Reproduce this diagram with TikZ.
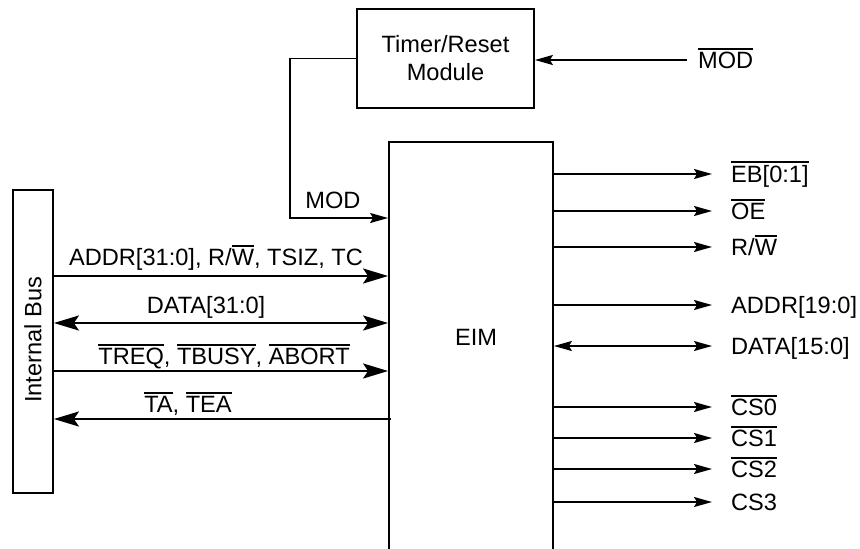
\documentclass[tikz,border=0pt]{standalone}
\usepackage{fontspec}
\setmainfont{Liberation Sans}
\usetikzlibrary{arrows.meta}
\newcommand{\ovl}[1]{\vbox{\hrule height 1.7pt\kern 2pt\hbox{#1}}}
\tikzset{
  bigtip/.tip = {Stealth[length=25pt,width=15pt,inset=5pt]},
  smalltip/.tip = {Stealth[length=18pt,width=10pt,inset=3pt]},
  block/.style = {draw, line width=1.8pt, inner sep=0pt},
  bus/.style = {line width=2.3pt, -bigtip},
  sig/.style = {line width=1.8pt, -smalltip},
  pin/.style = {anchor=west, inner sep=0pt, text height=22pt, text depth=6pt},
  tag/.style = {anchor=base, inner sep=0pt},
}
\begin{document}
\begin{tikzpicture}[x=1pt, y=-1pt, font=\fontsize{23.6}{28}\selectfont]
	\useasboundingbox (0,0) rectangle (860,549);
	\clip (0,0) rectangle (860,549);
	% blocks
	\node[block, minimum width=177pt, minimum height=99pt, align=center] (timer) at (445.5,58.5) {Timer/Reset\\Module};
	\node[block, minimum width=164pt, minimum height=460pt] (eim) at (471,372) {};
	\node (eimlbl) at (476,337) {EIM};
	\node[block, minimum width=40pt, minimum height=303pt] (bus) at (33,341.5) {};
	\node[rotate=90] (buslbl) at (33,340) {Internal Bus};
	% mode input
	\node[pin] (modbar) at (698,60) {\ovl{MOD}};
	\draw[sig] ([xshift=-11pt]modbar.west) -- (timer.east |- modbar.west);
	\node[tag] (modlbl) at (333,208) {MOD};
	\draw[sig] (timer.west) -- ++(-66,0) |- (eim.west |- 0,218);
	% internal bus side
	\node[tag] (addrlbl) at (216,265) {ADDR[31:0], R/\ovl{W}, TSIZ, TC};
	\node[tag] (datalbl) at (206,313) {DATA[31:0]};
	\node[tag] (treqlbl) at (224,364) {\ovl{TREQ}, \ovl{TBUSY}, \ovl{ABORT}};
	\node[tag] (talbl) at (188,412) {\ovl{TA}, \ovl{TEA}};
	\draw[bus] (bus.east |- 0,276) -- (eim.west |- 0,276);
	\draw[bus, bigtip-bigtip] (bus.east |- 0,323) -- (eim.west |- 0,323);
	\draw[bus] (bus.east |- 0,371) -- (eim.west |- 0,371);
	\draw[bus, bigtip-] (bus.east |- 0,419) -- ([xshift=3pt]eim.west |- 0,419);
	% external pins
	\node[pin] (eb) at (731,174) {\ovl{EB[0:1]}};
	\node[pin] (oe) at (731,211) {\ovl{OE}};
	\node[pin] (rw) at (731,247) {R/\ovl{W}};
	\node[pin] (addr) at (731,305) {ADDR[19:0]};
	\node[pin] (data) at (731,346) {DATA[15:0]};
	\node[pin] (cs0) at (731,407) {\ovl{CS0}};
	\node[pin] (cs1) at (731,438) {\ovl{CS1}};
	\node[pin] (cs2) at (731,469) {\ovl{CS2}};
	\node[pin] (cs3) at (731,502) {CS3};
	\draw[sig] (eim.east |- eb.west) -- ([xshift=-19pt]eb.west);
	\draw[sig] (eim.east |- oe.west) -- ([xshift=-19pt]oe.west);
	\draw[sig] (eim.east |- rw.west) -- ([xshift=-19pt]rw.west);
	\draw[sig] (eim.east |- addr.west) -- ([xshift=-19pt]addr.west);
	\draw[sig, smalltip-smalltip] (eim.east |- data.west) -- ([xshift=-19pt]data.west);
	\draw[sig] (eim.east |- cs0.west) -- ([xshift=-19pt]cs0.west);
	\draw[sig] (eim.east |- cs1.west) -- ([xshift=-19pt]cs1.west);
	\draw[sig] (eim.east |- cs2.west) -- ([xshift=-19pt]cs2.west);
	\draw[sig] (eim.east |- cs3.west) -- ([xshift=-19pt]cs3.west);
\end{tikzpicture}
\end{document}
